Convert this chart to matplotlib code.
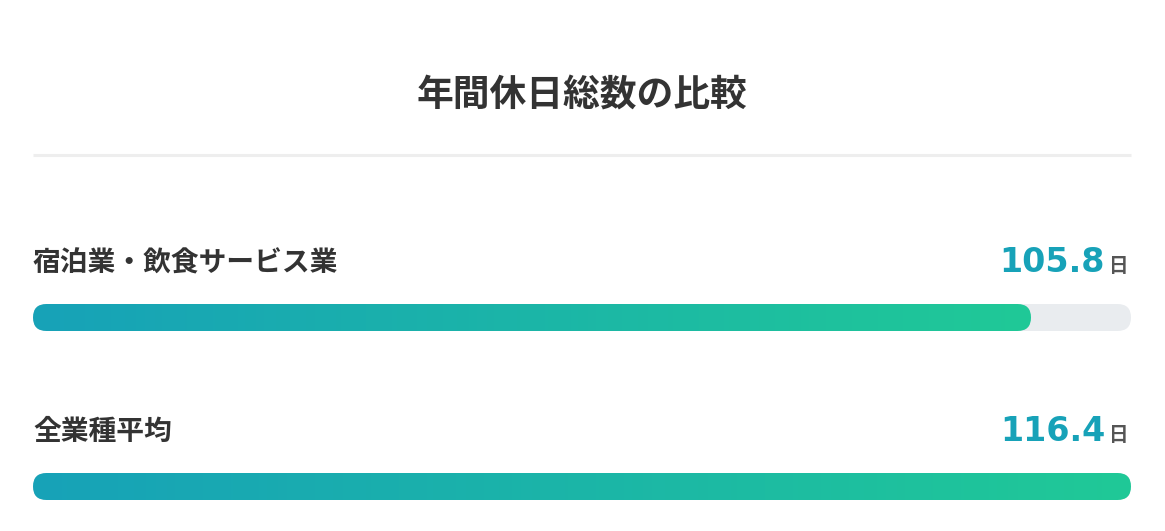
import matplotlib
matplotlib.use("Agg")
import matplotlib.pyplot as plt
from matplotlib.patches import FancyBboxPatch
import numpy as np

plt.rcParams['font.family'] = ['Noto Sans CJK JP', 'DejaVu Sans']

title = "年間休日総数の比較"
categories = ["宿泊業・飲食サービス業", "全業種平均"]
values = [105.8, 116.4]
unit = "日"

W, H = 1165, 531
fig = plt.figure(figsize=(W / 100, H / 100), dpi=100)
fig.patch.set_facecolor("white")

# background axes in pixel coords for text and separator
bg = fig.add_axes([0, 0, 1, 1])
bg.set_xlim(0, W)
bg.set_ylim(H, 0)
bg.axis("off")

left, right = 33, 1131
bg.text(582, 107, title, ha="center", va="baseline", fontsize=26.5,
        fontweight="bold", color="#333333")
bg.plot([left, right], [155, 155], color="#eeeeee", lw=2.2, solid_capstyle="butt")

label_y = [271, 440]
bar_top = [304, 473]
bar_h = 27
vmax = max(values)

c0 = np.array([23, 162, 184]) / 255
c1 = np.array([32, 201, 151]) / 255

for cat, val, ly, bt in zip(categories, values, label_y, bar_top):
    bg.text(left, ly, cat, ha="left", va="baseline", fontsize=20,
            fontweight="bold", color="#333333")
    bg.text(1129, ly + 1, unit, ha="right", va="baseline", fontsize=14,
            fontweight="bold", color="#555555")
    bg.text(1105, ly + 1, f"{val:.1f}", ha="right", va="baseline", fontsize=24,
            fontweight="bold", color="#17a2b8", family=["DejaVu Sans"])

    ax = fig.add_axes([left / W, 1 - (bt + bar_h) / H, (right - left) / W, bar_h / H])
    ax.axis("off")
    xpp = vmax / (right - left)
    r = bar_h / 2 * xpp
    asp = (1 / bar_h) / xpp

    track = FancyBboxPatch((0, 0), vmax, 1, boxstyle=f"round,pad=0,rounding_size={r}",
                           mutation_aspect=asp, facecolor="#e9ecef", edgecolor="none",
                           zorder=1)
    ax.add_patch(track)

    bar = FancyBboxPatch((0, 0), val, 1, boxstyle=f"round,pad=0,rounding_size={r}",
                         mutation_aspect=asp, facecolor="none", edgecolor="none")
    ax.add_patch(bar)
    t = np.linspace(0, 1, 512)
    grad = (c0[None, :] * (1 - t[:, None]) + c1[None, :] * t[:, None])[None, :, :]
    im = ax.imshow(grad, extent=[0, val, 0, 1], aspect="auto",
                   interpolation="bilinear", zorder=2)
    im.set_clip_path(bar)
    ax.set_xlim(0, vmax)
    ax.set_ylim(0, 1)

fig.savefig("out.png", dpi=100, facecolor="white")
